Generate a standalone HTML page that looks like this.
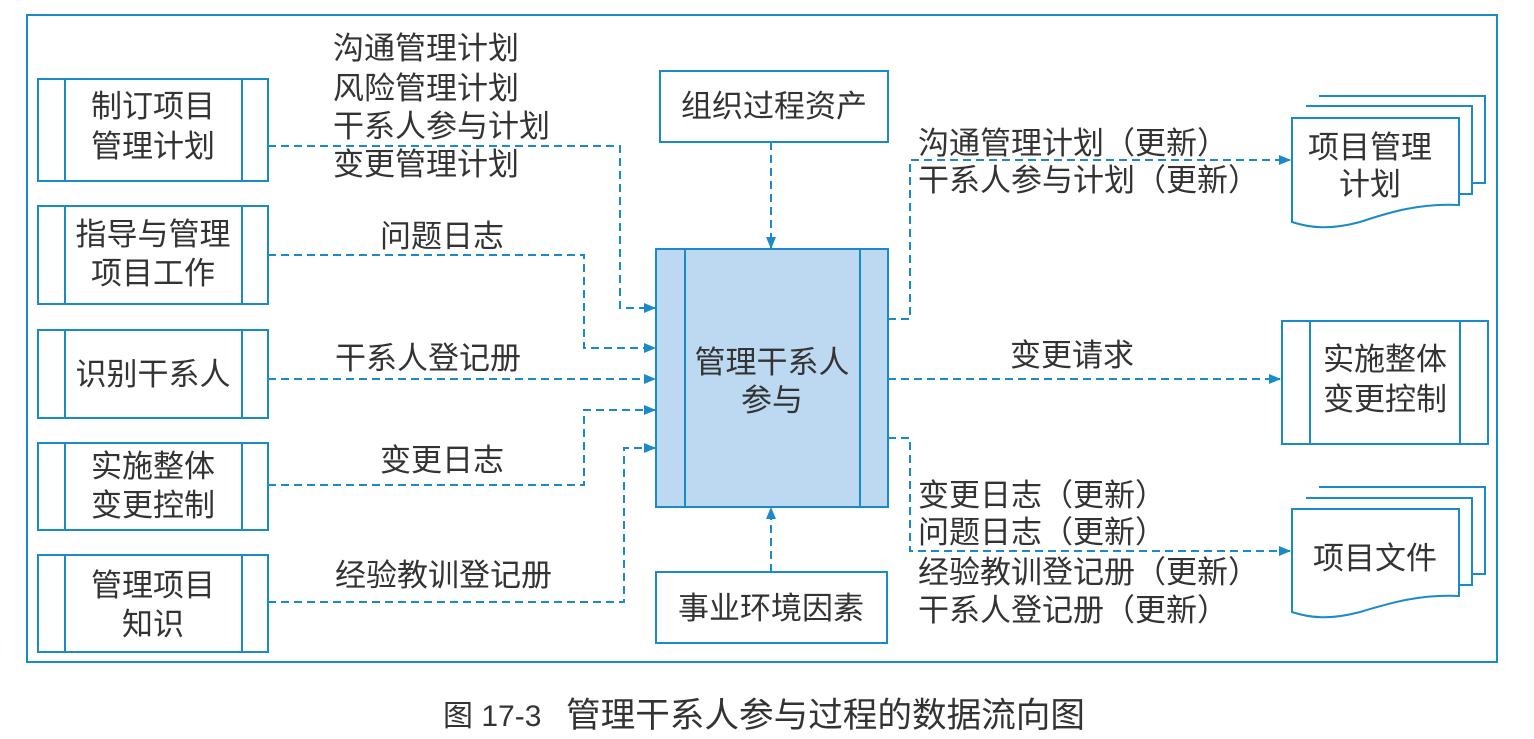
<!DOCTYPE html>
<html><head><meta charset="utf-8"><style>
html,body{margin:0;padding:0;background:#fff;}
svg text{font-family:"Liberation Sans","Noto Sans CJK SC",sans-serif;fill:#333;}
</style></head><body>
<svg width="1534" height="734" viewBox="0 0 1534 734" xmlns="http://www.w3.org/2000/svg">
<defs>
<marker id="a" markerWidth="12" markerHeight="10" refX="11" refY="5" orient="auto" markerUnits="userSpaceOnUse">
<path d="M0,0 L12,5 L0,10 Z" fill="#1a8ac8"/></marker>
</defs>
<g fill="none" stroke="#1a8ac8" stroke-width="2">
<rect x="27" y="15" width="1470" height="647"/>
<rect x="38" y="79" width="230" height="102"/><line x1="65" y1="79" x2="65" y2="181"/><line x1="242" y1="79" x2="242" y2="181"/>
<rect x="38" y="206" width="230" height="98"/><line x1="65" y1="206" x2="65" y2="304"/><line x1="242" y1="206" x2="242" y2="304"/>
<rect x="38" y="330" width="230" height="88"/><line x1="65" y1="330" x2="65" y2="418"/><line x1="242" y1="330" x2="242" y2="418"/>
<rect x="38" y="443" width="230" height="87"/><line x1="65" y1="443" x2="65" y2="530"/><line x1="242" y1="443" x2="242" y2="530"/>
<rect x="38" y="555" width="230" height="97"/><line x1="65" y1="555" x2="65" y2="652"/><line x1="242" y1="555" x2="242" y2="652"/>
<rect x="656" y="249" width="232" height="258" fill="#bcd9f1"/><line x1="685" y1="249" x2="685" y2="507"/><line x1="860" y1="249" x2="860" y2="507"/>
<rect x="660" y="71" width="228" height="71"/>
<rect x="656" y="572" width="231" height="71"/>
<rect x="1282" y="321" width="206" height="123"/><line x1="1310" y1="321" x2="1310" y2="444"/><line x1="1460" y1="321" x2="1460" y2="444"/>
<path d="M1319,96 H1485 V183 H1472" fill="#fff"/>
<path d="M1306,106 H1472 V194 H1459" fill="#fff"/>
<path d="M1292,118 H1459 V205 C1420,203 1390,212 1360,222 C1330,230 1310,228 1292,222 Z" fill="#fff"/>
<path d="M1319,487 H1485 V574 H1472" fill="#fff"/>
<path d="M1306,498 H1472 V585 H1459" fill="#fff"/>
<path d="M1292,509 H1459 V596 C1420,594 1390,603 1360,612 C1330,620 1310,618 1292,612 Z" fill="#fff"/>
</g>
<g fill="none" stroke="#1a8ac8" stroke-width="2" stroke-dasharray="8,5">
<path d="M268,146 H620 V308 H655" marker-end="url(#a)"/>
<path d="M268,255 H584 V348 H655" marker-end="url(#a)"/>
<path d="M268,379 H655" marker-end="url(#a)"/>
<path d="M268,485 H584 V410 H655" marker-end="url(#a)"/>
<path d="M268,602 H624 V448 H655" marker-end="url(#a)"/>
<path d="M771,142 V248" marker-end="url(#a)"/>
<path d="M771,572 V508" marker-end="url(#a)"/>
<path d="M888,319 H910 V160 H1290" marker-end="url(#a)"/>
<path d="M888,379 H1280" marker-end="url(#a)"/>
<path d="M888,438 H910 V551 H1290" marker-end="url(#a)"/>
</g>
<g font-size="31">
<text x="153" y="117" text-anchor="middle">制订项目</text><text x="153" y="157" text-anchor="middle">管理计划</text>
<text x="153" y="245" text-anchor="middle">指导与管理</text><text x="153" y="284" text-anchor="middle">项目工作</text>
<text x="153" y="385" text-anchor="middle">识别干系人</text>
<text x="153" y="477" text-anchor="middle">实施整体</text><text x="153" y="516" text-anchor="middle">变更控制</text>
<text x="153" y="596" text-anchor="middle">管理项目</text><text x="153" y="635" text-anchor="middle">知识</text>
<text x="333" y="59">沟通管理计划</text>
<text x="333" y="99">风险管理计划</text>
<text x="333" y="137">干系人参与计划</text>
<text x="333" y="175">变更管理计划</text>
<text x="380" y="247">问题日志</text>
<text x="335" y="369">干系人登记册</text>
<text x="380" y="471">变更日志</text>
<text x="335" y="586">经验教训登记册</text>
<text x="774" y="117" text-anchor="middle">组织过程资产</text>
<text x="771" y="619" text-anchor="middle">事业环境因素</text>
<text x="772" y="373" text-anchor="middle">管理干系人</text>
<text x="772" y="411" text-anchor="middle">参与</text>
<text x="918" y="154">沟通管理计划（更新）</text>
<text x="918" y="191">干系人参与计划（更新）</text>
<text x="1010" y="366">变更请求</text>
<text x="918" y="506">变更日志（更新）</text>
<text x="918" y="543">问题日志（更新）</text>
<text x="918" y="583">经验教训登记册（更新）</text>
<text x="918" y="621">干系人登记册（更新）</text>
<text x="1370" y="158" text-anchor="middle">项目管理</text>
<text x="1370" y="195" text-anchor="middle">计划</text>
<text x="1385" y="370" text-anchor="middle">实施整体</text>
<text x="1385" y="410" text-anchor="middle">变更控制</text>
<text x="1375" y="569" text-anchor="middle">项目文件</text>
<text x="443" y="726" font-size="30">图 17-3</text>
<text x="566" y="727" font-size="34.5" textLength="519" lengthAdjust="spacingAndGlyphs">管理干系人参与过程的数据流向图</text>
</g>
</svg>
</body></html>
